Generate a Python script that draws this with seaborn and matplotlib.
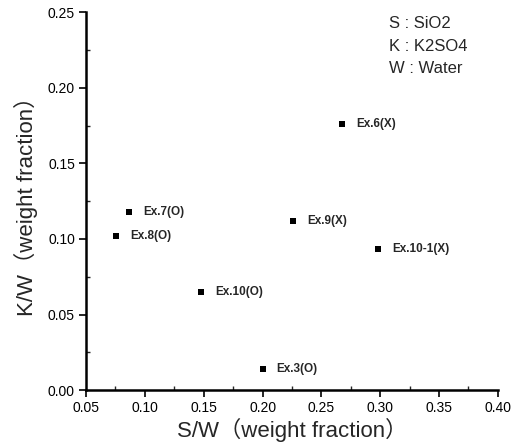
import matplotlib
matplotlib.use("Agg")
import matplotlib.pyplot as plt
from matplotlib.ticker import MultipleLocator
import seaborn as sns
import pandas as pd

sns.set_theme(style="ticks")
plt.rcParams['font.family'] = ['Liberation Sans', 'Noto Sans CJK SC', 'DejaVu Sans']

# Data
labels = ['Ex.7(O)', 'Ex.8(O)', 'Ex.10(O)', 'Ex.3(O)', 'Ex.6(X)', 'Ex.9(X)', 'Ex.10-1(X)']
sw = [0.0865, 0.0755, 0.1477, 0.2000, 0.2675, 0.2260, 0.2980]
kw = [0.1177, 0.1019, 0.0648, 0.0139, 0.1760, 0.1118, 0.0933]

df = pd.DataFrame({'S/W': sw, 'K/W': kw, 'label': labels})

fig = plt.figure(figsize=(5.28, 4.48), dpi=100)
ax = fig.add_axes([0.163, 0.129, 0.78, 0.844])

sns.scatterplot(data=df, x='S/W', y='K/W', marker='s', s=22, color='black',
                edgecolor='black', linewidth=0, ax=ax)

for x, y, t in zip(sw, kw, labels):
    ax.annotate(t, (x, y), xytext=(10, 0), textcoords='offset points',
                va='center', ha='left', fontsize=8.5, fontweight='bold')

ax.set_xlim(0.05, 0.40)
ax.set_ylim(0.0, 0.25)
ax.xaxis.set_major_locator(MultipleLocator(0.05))
ax.yaxis.set_major_locator(MultipleLocator(0.05))
ax.xaxis.set_minor_locator(MultipleLocator(0.025))
ax.yaxis.set_minor_locator(MultipleLocator(0.025))
ax.xaxis.set_major_formatter(plt.FormatStrFormatter('%.2f'))
ax.yaxis.set_major_formatter(plt.FormatStrFormatter('%.2f'))
ax.tick_params(which='major', direction='out', length=5, width=1.2, labelsize=10,
               colors='black', pad=3)
ax.tick_params(which='minor', direction='in', length=3, width=1)

sns.despine(ax=ax)
for s in ['left', 'bottom']:
    ax.spines[s].set_linewidth(1.8)
    ax.spines[s].set_color('black')

ax.set_xlabel('S/W（weight fraction）', fontsize=16, labelpad=2)
ax.set_ylabel('K/W（weight fraction）', fontsize=16, labelpad=7)

ax.text(0.735, 0.99, 'S : SiO2\nK : K2SO4\nW : Water', transform=ax.transAxes,
        ha='left', va='top', fontsize=12, linespacing=1.65)

fig.savefig('out.png', dpi=100)
